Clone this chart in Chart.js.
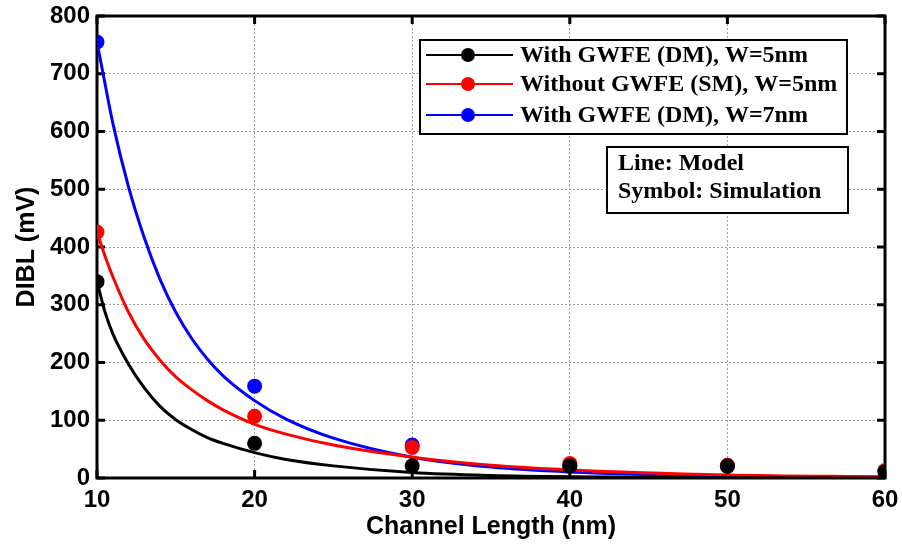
<!DOCTYPE html>
<html>
<head>
<meta charset="utf-8">
<script src="https://cdn.jsdelivr.net/npm/chart.js@4.4.0/dist/chart.umd.min.js"></script>
<style>html,body{margin:0;padding:0;background:#fff}</style>
</head>
<body>
<canvas id="myChart" width="902" height="545"></canvas>
<script>
// Simulation symbols (DIBL in mV vs channel length in nm)
var simLength = [10, 20, 30, 40, 50, 60];
var simDM5 = [340, 60, 21, 21, 21, 11];
var simSM5 = [426, 107, 53, 25, 22, 13];
var simDM7 = [755, 159, 57, 20, 20, 11];

// Model curves
var modelLength = [10, 10.5, 11, 12, 13, 14, 15, 16, 17, 18, 20, 22, 25, 30, 35, 40, 50, 60];
var modelDM5 = [340, 288, 250, 197, 156, 124, 101, 84, 70, 60, 44, 32, 21, 9.4, 4.2, 2, 0.5, 0.1];
var modelSM5 = [426, 385, 349, 287, 240, 204, 175, 153, 134, 118, 93, 76, 57, 36, 22, 14, 5.4, 2.1];
var modelDM7 = [755, 684, 615, 504, 416, 344, 287, 242, 206, 177, 134, 102, 69, 36, 19, 10.5, 3.3, 1.1];

var seriesLabels = ['With GWFE (DM), W=5nm', 'Without GWFE (SM), W=5nm', 'With GWFE (DM), W=7nm'];
var seriesColors = ['#000000', '#ff0000', '#0000ff'];
var noteLines = ['Line: Model', 'Symbol: Simulation'];

var xTicks = [10, 20, 30, 40, 50, 60];
var yTicks = [0, 100, 200, 300, 400, 500, 600, 700, 800];

function pairs(xs, ys) {
    var out = [];
    for (var i = 0; i < xs.length; i++) out.push({x: xs[i], y: ys[i]});
    return out;
}

var simSets = [simDM5, simSM5, simDM7];
var modelSets = [modelDM5, modelSM5, modelDM7];
var datasets = [];
for (var i = 0; i < 3; i++) {
    datasets.push({
        label: seriesLabels[i] + ' sim',
        data: pairs(simLength, simSets[i]),
        showLine: false,
        pointRadius: 7.5,
        pointBackgroundColor: seriesColors[i],
        pointBorderColor: seriesColors[i],
        pointBorderWidth: 0
    });
}
for (var j = 0; j < 3; j++) {
    datasets.push({
        label: seriesLabels[j],
        data: pairs(modelLength, modelSets[j]),
        borderColor: seriesColors[j],
        borderWidth: 3,
        pointRadius: 0,
        cubicInterpolationMode: 'monotone',
        fill: false
    });
}

// frame + inward MATLAB style ticks
var framePlugin = {
    id: 'frame',
    beforeDatasetsDraw: function(chart) {
        var ctx = chart.ctx, a = chart.chartArea;
        var xs = chart.scales.x, ys = chart.scales.y;
        ctx.save();
        ctx.strokeStyle = '#000';
        ctx.lineWidth = 3;
        xTicks.forEach(function(v) {
            var px = xs.getPixelForValue(v);
            ctx.beginPath();
            ctx.moveTo(px, a.bottom); ctx.lineTo(px, a.bottom - 8);
            ctx.moveTo(px, a.top); ctx.lineTo(px, a.top + 8);
            ctx.stroke();
        });
        yTicks.forEach(function(v) {
            var py = ys.getPixelForValue(v);
            ctx.beginPath();
            ctx.moveTo(a.left, py); ctx.lineTo(a.left + 8, py);
            ctx.moveTo(a.right, py); ctx.lineTo(a.right - 8, py);
            ctx.stroke();
        });
        ctx.strokeRect(a.left, a.top, a.right - a.left, a.bottom - a.top);
        ctx.restore();
    }
};

// legend box + note box drawn inside the plot
var legendPlugin = {
    id: 'boxes',
    afterDatasetsDraw: function(chart) {
        var ctx = chart.ctx, a = chart.chartArea;
        ctx.save();
        var bx = a.left + 323, by = a.top + 24, bw = 427, bh = 94;
        ctx.fillStyle = '#fff';
        ctx.fillRect(bx, by, bw, bh);
        ctx.strokeStyle = '#000';
        ctx.lineWidth = 2;
        ctx.strokeRect(bx, by, bw, bh);
        ctx.font = 'bold 24px "Liberation Serif", "Times New Roman", serif';
        ctx.textBaseline = 'middle';
        ctx.textAlign = 'left';
        var rows = [a.top + 39, a.top + 68, a.top + 99];
        for (var k = 0; k < 3; k++) {
            var ds = chart.data.datasets[3 + k];
            ctx.strokeStyle = ds.borderColor;
            ctx.lineWidth = 2;
            ctx.beginPath();
            ctx.moveTo(bx + 6, rows[k]);
            ctx.lineTo(bx + 93, rows[k]);
            ctx.stroke();
            ctx.fillStyle = ds.borderColor;
            ctx.beginPath();
            ctx.arc(bx + 48, rows[k], 7, 0, Math.PI * 2);
            ctx.fill();
            ctx.fillStyle = '#000';
            ctx.fillText(ds.label, bx + 100, rows[k] + 1);
        }
        var nx = a.left + 510, ny = a.top + 131, nw = 241, nh = 66;
        ctx.fillStyle = '#fff';
        ctx.fillRect(nx, ny, nw, nh);
        ctx.strokeStyle = '#000';
        ctx.lineWidth = 2;
        ctx.strokeRect(nx, ny, nw, nh);
        ctx.fillStyle = '#000';
        ctx.fillText(noteLines[0], nx + 11, ny + 17);
        ctx.fillText(noteLines[1], nx + 11, ny + 45);
        ctx.restore();
    }
};

var tickFont = {family: '"Liberation Sans", Arial, sans-serif', size: 24, weight: 'bold'};
var titleFont = {family: '"Liberation Sans", Arial, sans-serif', size: 25, weight: 'bold'};
var gridStyle = {color: '#a0a0a0', lineWidth: 1, drawTicks: false};

var ctx = document.getElementById('myChart').getContext('2d');
var myChart = new Chart(ctx, {
    type: 'line',
    data: {datasets: datasets},
    plugins: [framePlugin, legendPlugin],
    options: {
        responsive: false,
        animation: false,
        layout: {padding: {top: 16, right: 17, left: 0, bottom: 0}},
        plugins: {legend: {display: false}, tooltip: {enabled: false}},
        scales: {
            x: {
                type: 'linear',
                min: 10, max: 60,
                afterBuildTicks: function(scale) {
                    scale.ticks = xTicks.map(function(v) { return {value: v}; });
                },
                afterFit: function(scale) {
                    scale.height = 67;
                    scale.paddingLeft = 0;
                    scale.paddingRight = 0;
                },
                grid: gridStyle,
                border: {display: false, dash: [2, 2]},
                ticks: {color: '#000', font: tickFont, padding: 8, maxRotation: 0},
                title: {display: true, text: 'Channel Length (nm)', color: '#000', font: titleFont, padding: {top: 0, bottom: 3}}
            },
            y: {
                min: 0, max: 800,
                afterBuildTicks: function(scale) {
                    scale.ticks = yTicks.map(function(v) { return {value: v}; });
                },
                afterFit: function(scale) {
                    scale.width = 97;
                    scale.paddingTop = 0;
                    scale.paddingBottom = 0;
                },
                grid: gridStyle,
                border: {display: false, dash: [2, 2]},
                ticks: {color: '#000', font: tickFont, padding: 7},
                title: {display: true, text: 'DIBL (mV)', color: '#000', font: titleFont, padding: {top: 12, bottom: 0}}
            }
        }
    }
});
</script>
</body>
</html>
